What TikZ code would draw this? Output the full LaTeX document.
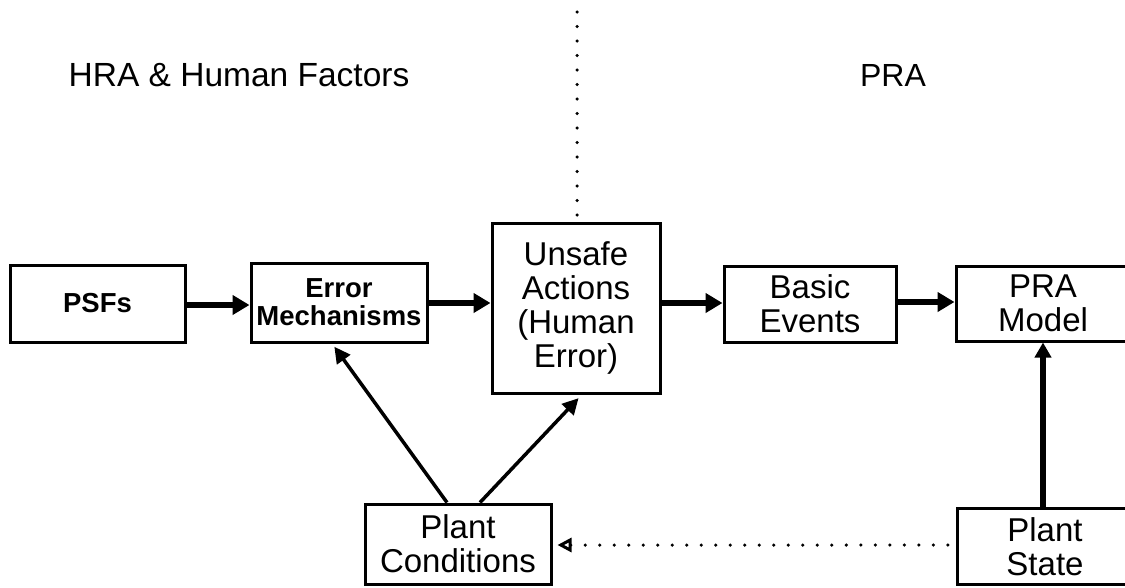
\documentclass[tikz,border=0pt]{standalone}
\usepackage{fontspec}
\setmainfont{Liberation Sans}
\usetikzlibrary{arrows.meta}
\tikzset{
  box/.style={draw, line width=3pt, inner sep=0pt, align=center, font=\fontsize{33}{34}\selectfont},
  smallbox/.style={box, font=\bfseries\fontsize{27.5}{28}\selectfont},
  title/.style={font=\fontsize{33.5}{34}\selectfont, inner sep=0pt},
  flow/.style={line width=6pt, -{Triangle[length=17pt,width=19pt]}},
  infl/.style={line width=3.5pt, -{Triangle[length=16pt,width=16pt]}},
  dots/.style={line width=3.5pt, line cap=round, dash pattern=on 0pt off 14.5pt},
}
\begin{document}
\begin{tikzpicture}[x=1pt,y=-1pt]
\useasboundingbox (0,0) rectangle (1125,587);
\node[title] (hra) at (239,75) {HRA \& Human Factors};
\node[title, font=\fontsize{32}{34}\selectfont] (pra) at (893,75) {PRA};
\node[smallbox, minimum width=175pt, minimum height=77pt] (psf) at (97.5,303.5) {PSFs};
\node[smallbox, minimum width=176pt, minimum height=79pt] (em) at (339,302.5) {Error\\Mechanisms};
\node[box, minimum width=168pt, minimum height=170pt] (ua) at (576,308) {Unsafe\\Actions\\(Human\\Error)};
\node[box, minimum width=172pt, minimum height=76pt] (be) at (810,304) {Basic\\Events};
\node[box, minimum width=174pt, minimum height=75pt] (pm) at (1043,303.5) {PRA\\Model};
\node[box, minimum width=176pt, minimum height=76pt] (ps) at (1045,546.5) {Plant\\State};
\node[box, minimum width=186pt, minimum height=80pt] (pc) at (458,544) {Plant\\Conditions};
\coordinate (top) at (577,12);
\draw[dots] (top) -- (ua.north -| top);
\draw[flow] (psf.east |- 0,305) -- (em.west |- 0,305);
\draw[flow] (em.east |- 0,303) -- (ua.west |- 0,303);
\draw[flow] (ua.east |- 0,303) -- (be.west |- 0,303);
\draw[flow] (be.east |- 0,302) -- (pm.west |- 0,302);
\draw[line width=6pt, -{Triangle[length=15pt,width=16pt]}] (ps.north -| 1043,0) -- (pm.south -| 1043,0);
\draw[infl, shorten >=4pt] ([xshift=-11pt]pc.north) -- ([xshift=-7pt]em.south);
\draw[infl, shorten >=5pt] ([xshift=22pt]pc.north) -- ([xshift=6pt]ua.south);
\draw[dots, {Triangle[open,length=14pt,width=14pt,line width=3pt]}-, shorten <=5pt] (pc.east |- 0,545) -- (ps.west |- 0,545);
\end{tikzpicture}
\end{document}
